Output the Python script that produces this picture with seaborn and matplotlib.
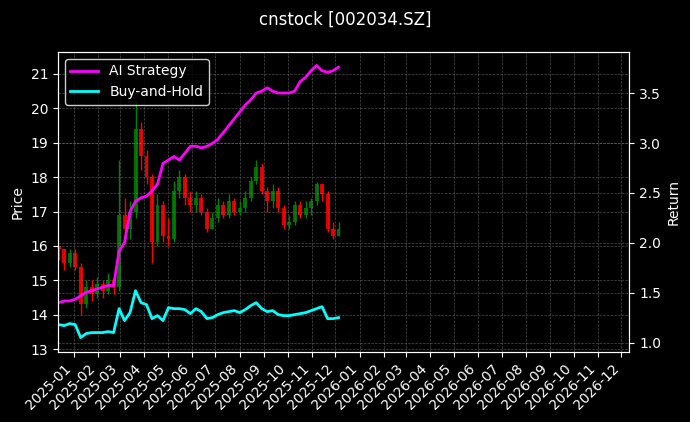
import pandas as pd
import matplotlib.pyplot as plt
import matplotlib.dates as mdates
import seaborn as sns

# weekly data
weeks = pd.date_range('2024-12-13', periods=52, freq='W-FRI')

price_close = [15.9, 15.5, 15.8,
               15.4, 14.3, 14.8, 14.6, 14.9,
               14.7, 15.0, 14.8, 16.9,
               16.5, 17.0, 19.4, 18.6,
               18.0, 16.1, 17.2, 16.3,
               16.2, 17.6, 18.0, 17.4, 17.2,
               17.4, 17.0, 16.5, 16.8,
               17.2, 16.9, 17.3, 17.0,
               17.1, 17.4, 17.9, 18.3, 17.6,
               17.3, 17.6, 17.1, 16.6,
               16.7, 17.2, 16.9, 17.1, 17.3,
               17.8, 17.5, 16.5, 16.3,
               16.5]
price_high = [16.0, 15.9, 15.9,
              15.9, 15.5, 15.0, 15.0, 15.1,
              15.0, 15.2, 15.1, 18.5,
              17.4, 17.3, 20.2, 19.6,
              18.8, 18.1, 17.5, 17.3,
              16.8, 17.9, 18.2, 18.1, 17.6,
              17.6, 17.5, 17.1, 17.0,
              17.4, 17.3, 17.5, 17.4,
              17.3, 17.6, 18.0, 18.5, 18.4,
              17.7, 17.8, 17.7, 17.2,
              16.9, 17.3, 17.3, 17.3, 17.4,
              17.85, 17.8, 17.6, 16.7,
              16.7]
price_low = [15.6, 15.3, 15.4,
             15.3, 14.0, 14.2, 14.4, 14.5,
             14.5, 14.6, 14.6, 14.7,
             16.1, 16.2, 16.8, 18.2,
             17.8, 15.5, 16.0, 16.1,
             16.0, 16.1, 17.4, 17.2, 17.0,
             17.0, 16.9, 16.4, 16.5,
             16.7, 16.8, 16.8, 16.9,
             16.9, 17.0, 17.3, 17.8, 17.5,
             17.0, 17.1, 17.0, 16.5,
             16.5, 16.6, 16.8, 16.8, 16.9,
             17.2, 17.3, 16.4, 16.2,
             16.3]
first_open = 16.0

ai_return = [1.400, 1.417, 1.417,
             1.434, 1.469, 1.503, 1.520, 1.538,
             1.555, 1.572, 1.572, 1.917,
             2.003, 2.313, 2.417, 2.451,
             2.468, 2.520, 2.589, 2.796,
             2.830, 2.865, 2.830, 2.899, 2.968,
             2.968, 2.951, 2.968, 2.997,
             3.037, 3.106, 3.175, 3.244,
             3.313, 3.382, 3.433, 3.502, 3.520,
             3.554, 3.520, 3.502, 3.502,
             3.502, 3.520, 3.616, 3.658, 3.726,
             3.778, 3.726, 3.709, 3.726,
             3.761]
bh_return = [1.18, 1.17, 1.19,
             1.18, 1.05, 1.09, 1.10, 1.10,
             1.10, 1.11, 1.10, 1.34,
             1.22, 1.30, 1.52, 1.40,
             1.38, 1.24, 1.27, 1.22,
             1.35, 1.34, 1.34, 1.33, 1.29,
             1.34, 1.31, 1.24, 1.25,
             1.28, 1.30, 1.31, 1.32,
             1.30, 1.33, 1.37, 1.40, 1.34,
             1.31, 1.32, 1.28, 1.27,
             1.27, 1.28, 1.29, 1.30, 1.32,
             1.34, 1.36, 1.24, 1.24,
             1.25]

df = pd.DataFrame({'date': weeks, 'close': price_close, 'high': price_high,
                   'low': price_low, 'ai': ai_return, 'bh': bh_return})
df['open'] = df['close'].shift(1).fillna(first_open)

plt.style.use('dark_background')
plt.rcParams['font.family'] = 'DejaVu Sans'

fig = plt.figure(figsize=(6.9, 4.22), dpi=100)
ax = fig.add_axes([0.084, 0.167, 0.828, 0.71])

# свечи
colors = ['green' if c >= o else 'red' for o, c in zip(df['open'], df['close'])]
ax.vlines(df['date'], df['low'], df['high'], colors=colors, linewidth=1)
ax.bar(df['date'], (df['close'] - df['open']).abs(),
       bottom=df[['open', 'close']].min(axis=1), width=5, color=colors, alpha=0.85)
ax.set_ylabel('Price')
ax.set_ylim(12.93, 21.64)
ax.grid(True, color='gray', linestyle='--', linewidth=0.5, alpha=0.6)

ax2 = ax.twinx()
sns.lineplot(data=df, x='date', y='ai', ax=ax2, color='magenta', linewidth=2,
             label='AI Strategy')
sns.lineplot(data=df, x='date', y='bh', ax=ax2, color='cyan', linewidth=2,
             label='Buy-and-Hold')
ax2.set_ylabel('Return')
ax2.set_ylim(0.91, 3.914)
ax2.grid(True, color='gray', linestyle='--', linewidth=0.5, alpha=0.6)
ax2.legend(loc='upper left', facecolor='black', edgecolor='white')

ax.set_xlim(pd.Timestamp('2024-12-12'), pd.Timestamp('2026-12-11'))
ax.xaxis.set_major_locator(mdates.MonthLocator())
ax.xaxis.set_major_formatter(mdates.DateFormatter('%Y-%m'))
ax2.set_xlabel('')
plt.setp(ax.get_xticklabels(), rotation=45, ha='right')

fig.suptitle('cnstock [002034.SZ]', y=0.975)
fig.savefig('out.png', dpi=100, facecolor='black')
plt.close()
